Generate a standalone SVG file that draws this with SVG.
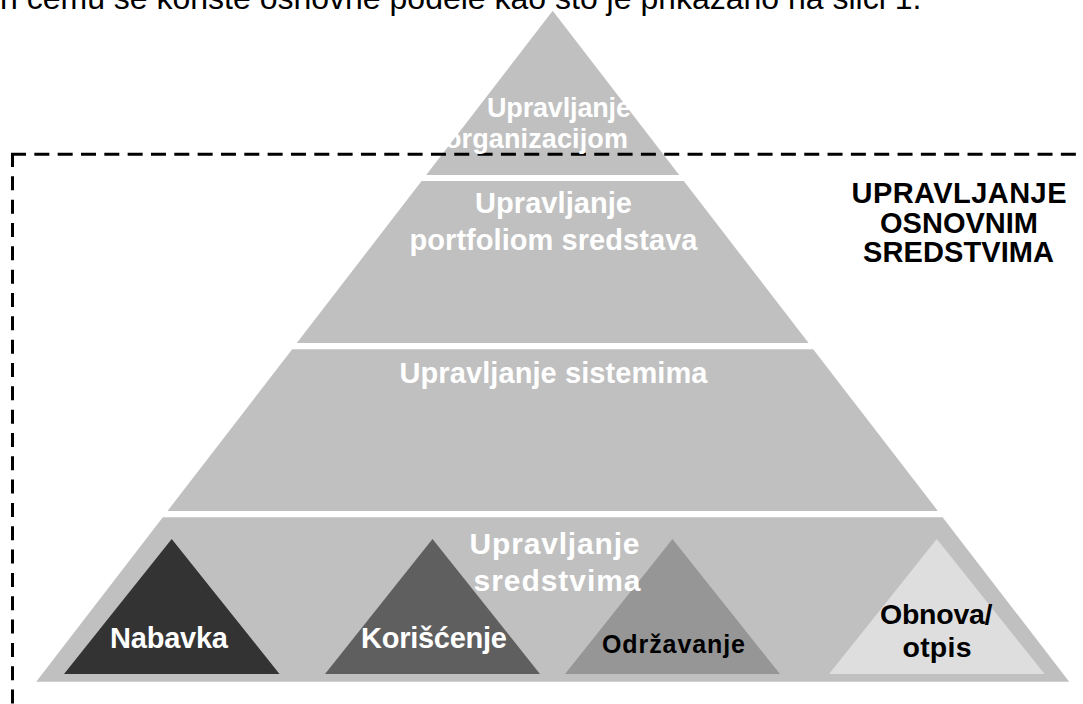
<svg xmlns="http://www.w3.org/2000/svg" width="1083" height="704" viewBox="0 0 1083 704">
  <style>
    .tier { fill: #c0c0c0; }
    .lbl { font-family: "Liberation Sans", Arial, sans-serif; font-weight: bold; }
    .w { fill: #ffffff; }
    .k { fill: #000000; }
    .dash { stroke: #000000; stroke-width: 3; fill: none; }
    .body { font-family: "Liberation Sans", Arial, sans-serif; font-size: 32px; fill: #000000; }
  </style>
  <rect width="1083" height="704" fill="#ffffff"/>
  <text class="body" x="0" y="9">n čemu se koriste osnovne podele kao što je prikazano na slici 1.</text>

  <g id="tier-organizacija">
    <polygon class="tier" points="552.7,10.7 679.2,175 426.2,175"/>
  </g>
  <g id="tier-portfolio">
    <polygon class="tier" points="421.6,181 683.8,181 808.6,343 296.8,343"/>
    <text class="lbl w" font-size="29" x="475" y="213" textLength="157" lengthAdjust="spacing">Upravljanje</text>
    <text class="lbl w" font-size="29" x="409.5" y="250" textLength="288" lengthAdjust="spacing">portfoliom sredstava</text>
  </g>
  <g id="tier-sistemi">
    <polygon class="tier" points="292.2,349.3 813.2,349.3 937.9,511 167.5,511"/>
    <text class="lbl w" font-size="29" x="399.5" y="383" textLength="308" lengthAdjust="spacing">Upravljanje sistemima</text>
  </g>
  <g id="tier-sredstva">
    <polygon class="tier" points="162.8,517.3 942.6,517.3 1069.2,681.7 36.2,681.7"/>
  </g>

  <g id="boundary">
    <line class="dash" x1="11" y1="154.3" x2="1083" y2="154.3" stroke-dasharray="15 8.33"/>
    <line class="dash" x1="12.5" y1="153" x2="12.5" y2="704" stroke-dasharray="14 9.33"/>
  </g>

  <g id="tier-organizacija-label">
    <text class="lbl w" font-size="27" x="487" y="117" textLength="144" lengthAdjust="spacing">Upravljanje</text>
    <text class="lbl w" font-size="27" x="445" y="148" textLength="183" lengthAdjust="spacing">organizacijom</text>
  </g>

  <g id="nabavka">
    <polygon fill="#333333" points="171.7,539 279.5,674 64,674"/>
  </g>
  <g id="koriscenje">
    <polygon fill="#5f5f5f" points="432.5,539 540,674 325,674"/>
  </g>
  <g id="odrzavanje">
    <polygon fill="#969696" points="672.5,539 780,674 565,674"/>
  </g>
  <g id="obnova">
    <polygon fill="#dedede" points="936.8,539 1044.6,674 829,674"/>
  </g>
  <g id="tier-sredstva-label">
    <text class="lbl w" font-size="30" x="469.5" y="553.5" textLength="170" lengthAdjust="spacing">Upravljanje</text>
    <text class="lbl w" font-size="30" x="473.5" y="590.5" textLength="167" lengthAdjust="spacing">sredstvima</text>
  </g>
  <g id="labels-inner">
    <text class="lbl w" font-size="29" x="110" y="648" textLength="118" lengthAdjust="spacing">Nabavka</text>
    <text class="lbl w" font-size="29" x="361" y="648" textLength="146" lengthAdjust="spacing">Korišćenje</text>
    <text class="lbl k" font-size="25" x="602" y="653" textLength="143" lengthAdjust="spacing">Održavanje</text>
    <text class="lbl k" font-size="28.5" x="880" y="624" textLength="112.5" lengthAdjust="spacing">Obnova/</text>
    <text class="lbl k" font-size="28.5" x="902.5" y="656.5" textLength="69" lengthAdjust="spacing">otpis</text>
  </g>

  <g id="title">
    <text class="lbl k" font-size="29" x="851.5" y="203" textLength="215" lengthAdjust="spacing">UPRAVLJANJE</text>
    <text class="lbl k" font-size="29" x="880" y="233" textLength="158" lengthAdjust="spacing">OSNOVNIM</text>
    <text class="lbl k" font-size="29" x="863" y="262" textLength="191" lengthAdjust="spacing">SREDSTVIMA</text>
  </g>
  <g id="connectors"/>
</svg>
